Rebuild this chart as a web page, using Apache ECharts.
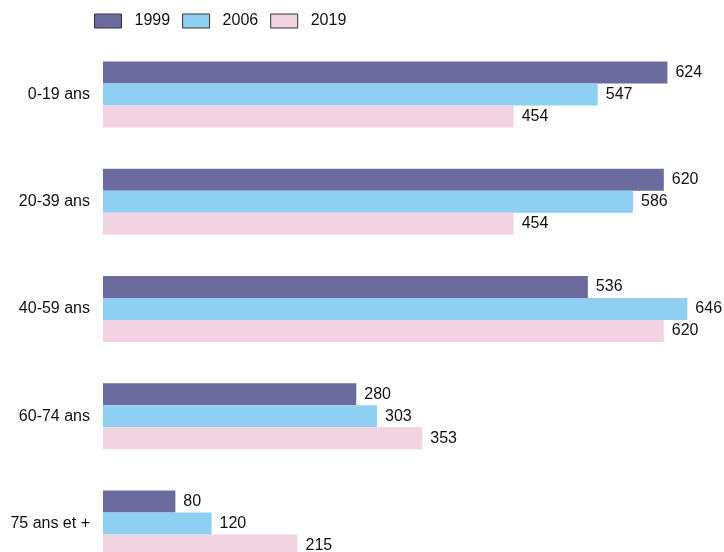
<!DOCTYPE html>
<html>
<head>
<meta charset="utf-8">
<script src="https://cdn.jsdelivr.net/npm/echarts@6/dist/echarts.min.js"></script>
<style>
  html, body { margin: 0; padding: 0; background: #fff; overflow: hidden; }
  /* la dernière barre est coupée en bas dans l'original : le graphique dépasse la fenêtre */
  #chart { width: 724px; height: 600px; }
</style>
</head>
<body>
<div id="chart"></div>
<script>
  // données
  var categories = ['0-19 ans', '20-39 ans', '40-59 ans', '60-74 ans', '75 ans et +'];
  var years = ['1999', '2006', '2019'];
  var values1999 = [624, 620, 536, 280, 80];
  var values2006 = [547, 586, 646, 303, 120];
  var values2019 = [454, 454, 620, 353, 215];
  var colors = ['#6b6b9e', '#8fd0f2', '#f2d3e2'];

  var FONT = "'Liberation Sans', Arial, sans-serif";

  var myChart = echarts.init(document.getElementById('chart'));

  function makeSeries(name, data, color) {
    return {
      name: name,
      type: 'bar',
      data: data,
      barWidth: 22,
      barGap: '0%',
      itemStyle: { color: color },
      label: {
        show: true,
        position: 'right',
        distance: 8,
        color: '#111',
        fontSize: 16,
        fontFamily: FONT
      },
      animation: false
    };
  }

  var option = {
    textStyle: { fontFamily: FONT },
    legend: {
      left: 89,
      top: 8,
      itemWidth: 27,
      itemHeight: 14,
      itemGap: 12,
      icon: 'rect',
      itemStyle: { borderColor: '#333', borderWidth: 1 },
      textStyle: { fontSize: 16, color: '#111', fontFamily: FONT, padding: [0, 0, 0, 8] },
      data: years
    },
    grid: {
      left: 103,
      top: 41,
      width: 597,
      height: 536,
      containLabel: false
    },
    xAxis: {
      type: 'value',
      min: 0,
      max: 660,
      show: false
    },
    yAxis: {
      type: 'category',
      inverse: true,
      data: categories,
      axisLine: { show: false },
      axisTick: { show: false },
      axisLabel: {
        margin: 13,
        fontSize: 16,
        color: '#111',
        fontFamily: FONT
      }
    },
    series: [
      makeSeries(years[0], values1999, colors[0]),
      makeSeries(years[1], values2006, colors[1]),
      makeSeries(years[2], values2019, colors[2])
    ]
  };

  myChart.setOption(option);
</script>
</body>
</html>
